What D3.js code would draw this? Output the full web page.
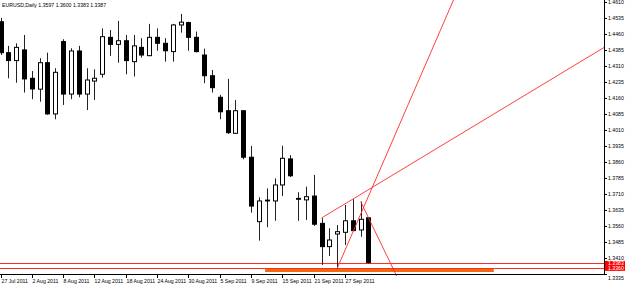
<!DOCTYPE html>
<html>
<head>
<meta charset="utf-8">
<script src="https://cdn.jsdelivr.net/npm/d3@7"></script>
<style>
  body { margin: 0; background: #fff; }
  svg { display: block; }
  text { font-family: "Liberation Sans", Arial, sans-serif; font-size: 5.2px; fill: #000; }
</style>
</head>
<body>
<div id="chart"></div>
<script>
window.addEventListener('load',
  () => {
    let W = 625, H = 286
    let plotRight = 604, plotBottom = 274

    // EURUSD daily, 27 Jul 2011 .. 30 Sep 2011
    let opens = [1.4516, 1.4371, 1.4334, 1.4384, 1.4251, 1.4200, 1.4324, 1.4084, 1.4423, 1.4177,
      1.4379, 1.4177, 1.4238, 1.4270, 1.4443, 1.4410, 1.4427, 1.4329, 1.4396, 1.4357,
      1.4443, 1.4415, 1.4376, 1.4501, 1.4512, 1.4443, 1.4360, 1.4263, 1.4162, 1.4099,
      1.3993, 1.4099, 1.3881, 1.3579, 1.3676, 1.3676, 1.3751, 1.3873, 1.3688, 1.3681,
      1.3699, 1.3571, 1.3462, 1.3521, 1.3529, 1.3583, 1.3540, 1.3597]
    let highs = [1.4534, 1.4403, 1.4415, 1.4454, 1.4285, 1.4345, 1.4371, 1.4298, 1.4434, 1.4392,
      1.4403, 1.4298, 1.4293, 1.4485, 1.4477, 1.4520, 1.4454, 1.4454, 1.4439, 1.4506,
      1.4485, 1.4439, 1.4506, 1.4553, 1.4516, 1.4470, 1.4390, 1.4290, 1.4173, 1.4248,
      1.4149, 1.4100, 1.3934, 1.3693, 1.3735, 1.3782, 1.3935, 1.3891, 1.3717, 1.3743,
      1.3798, 1.3595, 1.3548, 1.3563, 1.3657, 1.3684, 1.3673, 1.3600]
    let lows = [1.4360, 1.4251, 1.4230, 1.4184, 1.4153, 1.4141, 1.4080, 1.4059, 1.4126, 1.4153,
      1.4162, 1.4102, 1.4149, 1.4254, 1.4356, 1.4324, 1.4270, 1.4259, 1.4348, 1.4355,
      1.4380, 1.4329, 1.4329, 1.4465, 1.4380, 1.4372, 1.4228, 1.4184, 1.4059, 1.3990,
      1.3990, 1.3871, 1.3621, 1.3490, 1.3553, 1.3583, 1.3699, 1.3788, 1.3583, 1.3587,
      1.3559, 1.3376, 1.3418, 1.3360, 1.3470, 1.3535, 1.3508, 1.3383]
    let closes = [1.4371, 1.4334, 1.4396, 1.4248, 1.4201, 1.4324, 1.4084, 1.4279, 1.4177, 1.4379,
      1.4177, 1.4243, 1.4251, 1.4446, 1.4410, 1.4427, 1.4334, 1.4403, 1.4360, 1.4443,
      1.4415, 1.4380, 1.4501, 1.4514, 1.4443, 1.4376, 1.4263, 1.4207, 1.4094, 1.3996,
      1.4099, 1.3881, 1.3652, 1.3676, 1.3680, 1.3751, 1.3876, 1.3794, 1.3684, 1.3696,
      1.3567, 1.3462, 1.3493, 1.3532, 1.3583, 1.3537, 1.3590, 1.3387]

    let dateTicks = [0, 4, 8, 12, 16, 20, 24, 28, 32, 36, 40, 44]
    let dateLabels = ['27 Jul 2011', '2 Aug 2011', '8 Aug 2011', '12 Aug 2011', '18 Aug 2011',
      '24 Aug 2011', '30 Aug 2011', '5 Sep 2011', '9 Sep 2011', '15 Sep 2011',
      '21 Sep 2011', '27 Sep 2011']
    let priceTicks = [1.4610, 1.4535, 1.4460, 1.4385, 1.4310, 1.4235, 1.4160, 1.4085, 1.4010,
      1.3935, 1.3860, 1.3785, 1.3710, 1.3635, 1.3560, 1.3485, 1.3410, 1.3335]

    let title = 'EURUSD,Daily  1.3597 1.3600 1.3383 1.3387'
    let levelPrices = [1.3383, 1.3360]
    // objects: [bar1, price1, bar2, price2]
    let trendLines = [
      [41, 1.3596, 80, 1.4460],
      [43, 1.3360, 58, 1.4630],
      [46, 1.3673, 50.6, 1.3324]]
    let orangeLine = [33.8, 1.3350, 63, 1.3350]

    ////////////////////
    let x = d3.scaleLinear().domain([0, 44]).range([0.5, 345])
    let y = d3.scaleLinear().domain([1.3410, 1.4610]).range([257.7, 1.7])
    let bars = d3.range(opens.length)

    let svg = d3.select('#chart')
      .append('svg')
      .attr('width', W)
      .attr('height', H)
      .attr('xmlns', 'http://www.w3.org/2000/svg')

    svg.append('defs').append('clipPath')
      .attr('id', 'plot')
      .append('rect')
      .attr('x', 0).attr('y', 0)
      .attr('width', plotRight).attr('height', plotBottom + 3)

    let plot = svg.append('g').attr('clip-path', 'url(#plot)')

    // horizontal levels
    plot.selectAll('line.level')
      .data(levelPrices)
      .join('line')
      .attr('class', 'level')
      .attr('x1', 0).attr('x2', plotRight)
      .attr('y1', d => Math.round(y(d)) + 0.5)
      .attr('y2', d => Math.round(y(d)) + 0.5)
      .attr('stroke', '#ff2a2a')
      .attr('stroke-width', 1)

    plot.append('line')
      .attr('x1', x(orangeLine[0])).attr('x2', x(orangeLine[2]))
      .attr('y1', y(orangeLine[1])).attr('y2', y(orangeLine[3]))
      .attr('stroke', '#f26a10')
      .attr('stroke-width', 3)

    // candles
    let candle = plot.selectAll('g.candle')
      .data(bars)
      .join('g')
      .attr('class', 'candle')

    candle.append('line')
      .attr('x1', i => Math.round(x(i)) + 0.5)
      .attr('x2', i => Math.round(x(i)) + 0.5)
      .attr('y1', i => y(highs[i]))
      .attr('y2', i => y(lows[i]))
      .attr('stroke', '#222')
      .attr('stroke-width', 1)

    candle.append('rect')
      .attr('x', i => Math.round(x(i)) - 1.5)
      .attr('width', 4)
      .attr('y', i => y(Math.max(opens[i], closes[i])))
      .attr('height', i => Math.max(0.5, Math.abs(y(opens[i]) - y(closes[i]))))
      .attr('fill', i => closes[i] < opens[i] ? '#000' : '#fff')
      .attr('stroke', '#000')
      .attr('stroke-width', 1)

    plot.selectAll('line.trend')
      .data(trendLines)
      .join('line')
      .attr('class', 'trend')
      .attr('x1', d => x(d[0])).attr('y1', d => y(d[1]))
      .attr('x2', d => x(d[2])).attr('y2', d => y(d[3]))
      .attr('stroke', '#ff2a2a')
      .attr('stroke-width', 0.9)

    // frame
    svg.append('line')
      .attr('x1', 0).attr('x2', plotRight + 0.5)
      .attr('y1', plotBottom + 0.5).attr('y2', plotBottom + 0.5)
      .attr('stroke', '#000')
    svg.append('line')
      .attr('x1', plotRight + 0.5).attr('x2', plotRight + 0.5)
      .attr('y1', 0).attr('y2', plotBottom + 0.5)
      .attr('stroke', '#000')

    // price axis
    let ptick = svg.selectAll('g.ptick')
      .data(priceTicks)
      .join('g')
      .attr('class', 'ptick')
      .attr('transform', d => 'translate(0,' + Math.round(y(d)) + ')')
    ptick.append('line')
      .attr('x1', plotRight).attr('x2', plotRight + 3)
      .attr('y1', 0.5).attr('y2', 0.5)
      .attr('stroke', '#000')
    ptick.append('text')
      .attr('x', plotRight + 4)
      .attr('y', d => y(d) > plotBottom - 2 ? 6 : 2)
      .text(d => d.toFixed(4))

    // current price markers
    svg.append('rect')
      .attr('x', plotRight + 1).attr('y', y(levelPrices[0]) - 2.5)
      .attr('width', W - plotRight - 1)
      .attr('height', y(levelPrices[1]) - y(levelPrices[0]) + 5)
      .attr('fill', '#ff0000')
    svg.selectAll('text.mark')
      .data(levelPrices)
      .join('text')
      .attr('class', 'mark')
      .attr('x', plotRight + 4)
      .attr('y', d => y(d) + 2)
      .style('fill', '#fff')
      .text(d => d.toFixed(4))

    // time axis
    let xtick = svg.selectAll('g.xtick')
      .data(dateTicks)
      .join('g')
      .attr('class', 'xtick')
      .attr('transform', d => 'translate(' + (Math.round(x(d)) + 0.5) + ',0)')
    xtick.append('line')
      .attr('y1', plotBottom).attr('y2', plotBottom + 4)
      .attr('stroke', '#000')
    xtick.append('text')
      .attr('x', 0)
      .attr('y', 283)
      .text((d, i) => dateLabels[i])

    svg.append('text')
      .attr('x', 2)
      .attr('y', 6.5)
      .text(title)
  })
</script>
</body>
</html>
